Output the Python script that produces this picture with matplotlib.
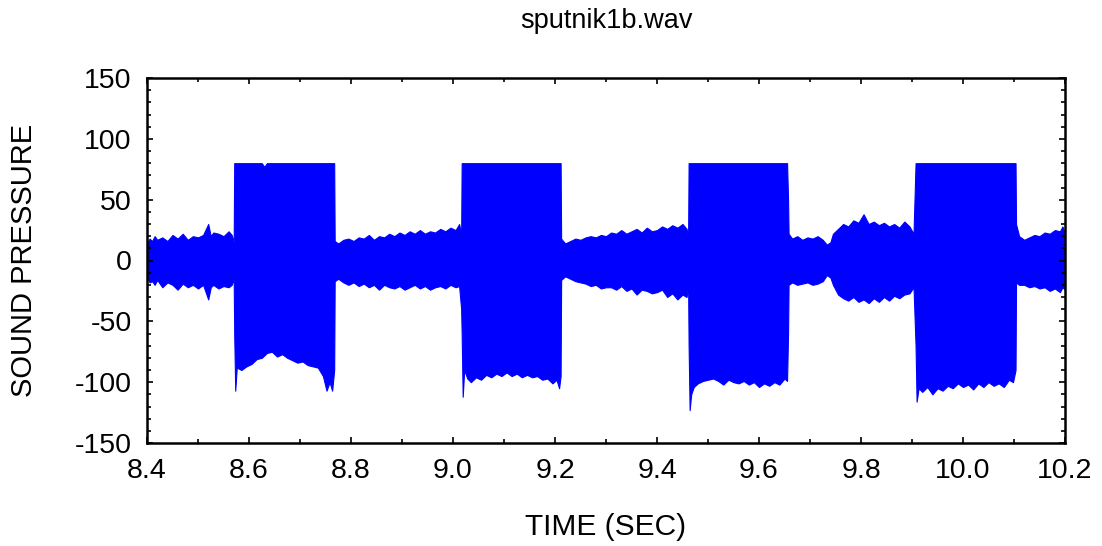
import matplotlib
matplotlib.use("Agg")
import matplotlib.pyplot as plt
from matplotlib.ticker import MultipleLocator
import numpy as np

plt.rcParams['font.family'] = ['Liberation Sans', 'DejaVu Sans']
plt.rcParams['axes.unicode_minus'] = False

title = "sputnik1b.wav"
xlabel = "TIME (SEC)"
ylabel = "SOUND PRESSURE"

# Envelope of the waveform: time (s), upper and lower extremes
time_s = [
    8.400, 8.405, 8.410, 8.415, 8.420, 8.430, 8.440, 8.450, 8.460, 8.470, 8.480, 8.490,
    8.500, 8.510, 8.520, 8.525, 8.530, 8.540, 8.550, 8.560, 8.566, 8.570,
    8.571, 8.573, 8.576, 8.585, 8.595, 8.605, 8.615, 8.625, 8.630, 8.635, 8.645, 8.655,
    8.665, 8.675, 8.685, 8.695, 8.705, 8.715, 8.725, 8.735, 8.745, 8.752, 8.758, 8.763, 8.767,
    8.768, 8.775, 8.785, 8.795, 8.805, 8.815, 8.825, 8.835, 8.845, 8.855, 8.865, 8.875,
    8.885, 8.895, 8.905, 8.915, 8.925, 8.935, 8.945, 8.955, 8.965, 8.975, 8.985, 8.995,
    9.005, 9.012, 9.016,
    9.017, 9.019, 9.022, 9.028, 9.035, 9.045, 9.055, 9.065, 9.075, 9.085, 9.095, 9.105,
    9.115, 9.125, 9.135, 9.145, 9.155, 9.165, 9.175, 9.185, 9.195, 9.203, 9.208, 9.211,
    9.212, 9.220, 9.230, 9.240, 9.250, 9.260, 9.270, 9.280, 9.290, 9.300, 9.310, 9.320,
    9.330, 9.340, 9.350, 9.360, 9.370, 9.380, 9.390, 9.400, 9.410, 9.420, 9.430, 9.440,
    9.450, 9.458, 9.461,
    9.462, 9.464, 9.467, 9.472, 9.480, 9.490, 9.500, 9.510, 9.520, 9.530, 9.540, 9.550,
    9.560, 9.570, 9.580, 9.590, 9.600, 9.610, 9.620, 9.630, 9.640, 9.650, 9.655, 9.657,
    9.658, 9.665, 9.675, 9.685, 9.695, 9.705, 9.715, 9.725, 9.733, 9.740, 9.745, 9.755,
    9.765, 9.775, 9.785, 9.795, 9.805, 9.815, 9.825, 9.835, 9.845, 9.855, 9.865, 9.875,
    9.885, 9.895, 9.903,
    9.907, 9.909, 9.913, 9.920, 9.930, 9.940, 9.950, 9.960, 9.970, 9.980, 9.990, 10.000,
    10.010, 10.020, 10.030, 10.040, 10.050, 10.060, 10.070, 10.080, 10.090, 10.098, 10.103,
    10.104, 10.110, 10.120, 10.130, 10.140, 10.150, 10.160, 10.170, 10.180, 10.190, 10.195, 10.200,
]
upper = [
    14, 18, 16, 20, 17, 19, 16, 21, 18, 22, 17, 20,
    19, 21, 30, 20, 23, 22, 20, 24, 21, 15,
    80, 80, 80, 80, 80, 80, 80, 80, 77, 80, 80, 80,
    80, 80, 80, 80, 80, 80, 80, 80, 80, 80, 80, 80, 80,
    16, 14, 17, 18, 16, 19, 18, 21, 17, 20, 19, 22,
    20, 23, 21, 24, 22, 25, 22, 24, 23, 26, 24, 27,
    25, 30, 22,
    80, 80, 80, 80, 80, 80, 80, 80, 80, 80, 80, 80,
    80, 80, 80, 80, 80, 80, 80, 80, 80, 80, 80, 80,
    18, 14, 16, 18, 17, 19, 20, 19, 21, 20, 23, 22,
    25, 22, 24, 26, 23, 27, 24, 25, 28, 26, 29, 27,
    30, 26, 20,
    80, 80, 80, 80, 80, 80, 80, 80, 80, 80, 80, 80,
    80, 80, 80, 80, 80, 80, 80, 80, 80, 80, 80, 50,
    22, 18, 20, 17, 19, 18, 20, 17, 13, 15, 22, 26,
    30, 28, 33, 31, 38, 30, 32, 29, 31, 28, 30, 27,
    32, 28, 22,
    80, 80, 80, 80, 80, 80, 80, 80, 80, 80, 80, 80,
    80, 80, 80, 80, 80, 80, 80, 80, 80, 80, 80,
    30, 20, 17, 19, 21, 20, 23, 22, 25, 24, 28, 22,
]
lower = [
    -14, -18, -17, -20, -16, -22, -18, -20, -24, -19, -22, -20,
    -23, -20, -32, -22, -20, -23, -21, -22, -20, -15,
    -60, -107, -88, -90, -87, -85, -81, -80, -78, -76, -75, -79,
    -77, -80, -82, -84, -83, -86, -87, -88, -95, -107, -100, -107, -90,
    -17, -15, -18, -20, -18, -21, -19, -22, -20, -24, -20, -22,
    -23, -21, -24, -22, -20, -23, -21, -24, -22, -21, -23, -20,
    -22, -21, -40,
    -60, -112, -90, -97, -100, -96, -98, -94, -96, -93, -95, -92,
    -95, -93, -96, -94, -96, -95, -98, -97, -101, -98, -105, -95,
    -16, -13, -15, -17, -18, -19, -21, -20, -23, -22, -22, -24,
    -21, -25, -23, -28, -24, -25, -27, -26, -24, -30, -27, -32,
    -28, -30, -20,
    -70, -123, -110, -104, -101, -99, -98, -97, -99, -102, -98, -100,
    -101, -99, -102, -100, -104, -101, -103, -100, -102, -97, -99, -60,
    -20, -18, -20, -19, -18, -20, -19, -17, -12, -14, -20, -28,
    -31, -33, -30, -34, -32, -35, -31, -34, -30, -33, -29, -31,
    -28, -27, -22,
    -70, -116, -105, -108, -104, -110, -105, -107, -103, -105, -101, -104,
    -102, -106, -101, -104, -100, -103, -101, -104, -98, -100, -90,
    -18, -20, -20, -22, -21, -23, -22, -25, -23, -26, -22, -24,
]

x_ticks = [8.4, 8.6, 8.8, 9.0, 9.2, 9.4, 9.6, 9.8, 10.0, 10.2]
y_ticks = [-150, -100, -50, 0, 50, 100, 150]

fig = plt.figure(figsize=(11.02, 5.46), dpi=100)
ax = fig.add_axes([147/1102, 1-443/546, (1065-147)/1102, (443-78)/546])

ax.fill_between(time_s, lower, upper, color='#0000FF', linewidth=0.8, edgecolor='#0000FF')

ax.set_xlim(8.4, 10.2)
ax.set_ylim(-150, 150)
ax.set_xticks(x_ticks)
ax.set_xticklabels([f"{v:.1f}" for v in x_ticks])
ax.set_yticks(y_ticks)
ax.xaxis.set_minor_locator(MultipleLocator(0.1))
ax.yaxis.set_minor_locator(MultipleLocator(10))
ax.tick_params(which='both', direction='in', top=True, right=True, labelsize=20.5, pad=11, width=1.2)
ax.tick_params(which='major', length=4)
ax.tick_params(which='minor', length=3)
for s in ax.spines.values():
    s.set_linewidth(1.8)

ax.set_title(title, fontsize=19.5, pad=36)
ax.set_xlabel(xlabel, fontsize=21.5, labelpad=20.5)
ax.set_ylabel(ylabel, fontsize=21, labelpad=26.5)

fig.savefig("out.png", dpi=100)
